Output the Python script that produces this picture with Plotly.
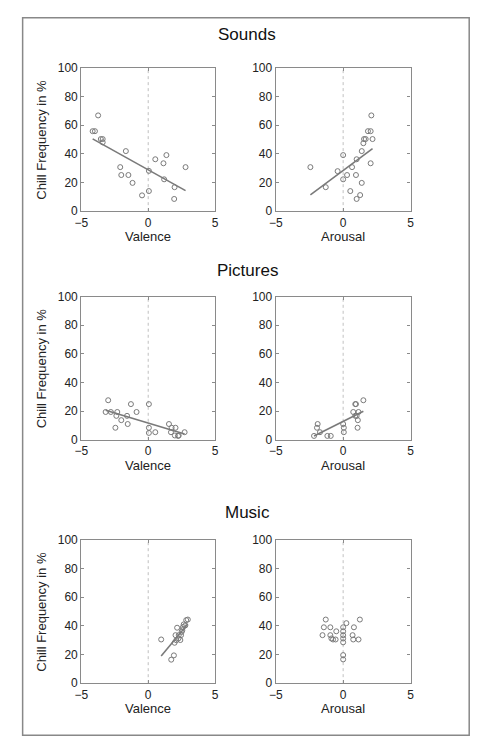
import numpy as np
import plotly.graph_objects as go
from plotly.subplots import make_subplots

# chill frequency (%) against mean valence / arousal ratings
sounds_val_x = [-4.15, -3.98, -3.74, -3.54, -3.4, -3.4, -1.67, -2.09, -2.01, -1.48, -1.17,
                -0.46, 0.05, 0.05, 0.53, 1.14, 1.36, 1.19, 1.97, 1.94, 2.79]
sounds_val_y = [55.8, 55.8, 66.8, 50.3, 50.3, 48.0, 41.9, 30.7, 25.2, 25.2, 19.7,
                11.0, 28.1, 14.0, 36.2, 33.4, 39.1, 22.2, 16.7, 8.5, 30.7]

sounds_aro_x = [-2.43, -1.29, -0.41, 0.0, 0.0, 0.29, 0.66, 1.0, 0.95, 0.53, 1.0,
                1.26, 1.38, 1.38, 1.5, 1.55, 1.67, 1.84, 2.04, 2.09, 2.18, 2.04]
sounds_aro_y = [30.7, 16.7, 27.9, 39.1, 22.2, 25.2, 30.7, 36.2, 25.2, 14.0, 8.5,
                11.2, 19.7, 41.9, 47.4, 50.3, 50.3, 55.8, 55.8, 66.8, 50.3, 33.4]

pict_val_x = [-2.99, -3.18, -2.79, -2.31, -2.38, -2.45, -2.01, -1.58, -1.53, -1.29, -0.87,
              0.05, 0.05, 0.05, 0.53, 1.55, 1.75, 2.04, 1.7, 1.99, 2.28, 2.23, 2.72]
pict_val_y = [27.6, 19.4, 19.4, 19.4, 16.7, 8.4, 13.7, 16.7, 11.0, 24.9, 19.4,
              24.9, 8.4, 4.8, 5.3, 11.0, 8.4, 8.4, 5.3, 3.0, 3.0, 2.7, 5.3]

pict_aro_x = [-2.16, -1.94, -1.89, -1.72, -1.17, -0.92, 0.05, 0.05, 0.0, 0.75, 0.95,
              0.9, 1.14, 1.09, 1.07, 1.5, 0.9, 1.0]
pict_aro_y = [2.7, 8.4, 11.0, 5.3, 2.7, 2.7, 8.4, 5.3, 11.0, 19.4, 24.9,
              16.7, 19.4, 13.7, 8.4, 27.6, 24.9, 16.7]

music_val_x = [0.97, 1.72, 1.92, 1.97, 2.04, 2.16, 2.26, 2.4, 2.45, 2.5, 2.6,
               2.65, 2.77, 2.84, 2.96, 2.28, 2.1, 2.55]
music_val_y = [30.5, 16.4, 19.4, 28.2, 33.5, 38.7, 31.2, 30.1, 33.5, 35.8, 39.2,
               41.0, 40.3, 44.0, 44.4, 33.5, 30.0, 37.0]

music_aro_x = [-1.29, -1.43, -1.53, -0.95, -0.95, -0.87, -0.56, -0.51, 0.0, 0.0, 0.0,
               0.0, 0.0, 0.0, 0.0, 0.24, 0.8, 0.7, 0.75, 1.14, 1.24, -0.75]
music_aro_y = [44.4, 39.0, 33.5, 39.0, 33.5, 31.2, 30.5, 36.2, 39.0, 36.2, 33.5,
               31.2, 28.5, 19.6, 16.6, 41.9, 39.0, 33.5, 30.5, 30.5, 44.4, 30.5]

sections = ["Sounds", "Pictures", "Music"]
panels = [
    (sounds_val_x, sounds_val_y, True), (sounds_aro_x, sounds_aro_y, True),
    (pict_val_x, pict_val_y, True), (pict_aro_x, pict_aro_y, True),
    (music_val_x, music_val_y, True), (music_aro_x, music_aro_y, False),
]

W, H = 482, 752
col_px = [(76, 213), (275, 413)]
row_px = [(62, 208), (295, 441), (543, 689)]

fig = make_subplots(rows=3, cols=2)
grey = "#8a8a8a"
font = "Liberation Sans, Arial, sans-serif"

for i, (xs, ys, fit) in enumerate(panels):
    r, c = i // 2 + 1, i % 2 + 1
    fig.add_trace(go.Scatter(x=xs, y=ys, mode="markers",
                             marker=dict(symbol="circle-open", size=5, color="#7a7a7a",
                                         line=dict(width=1)),
                             showlegend=False), row=r, col=c)
    if fit:
        k, b = np.polyfit(xs, ys, 1)
        lx = np.array([min(xs), max(xs)])
        fig.add_trace(go.Scatter(x=lx, y=k * lx + b, mode="lines",
                                 line=dict(color="#7a7a7a", width=1.6),
                                 showlegend=False), row=r, col=c)

for i in range(6):
    r, c = i // 2, i % 2
    n = "" if i == 0 else str(i + 1)
    x0, x1 = col_px[c]
    y0, y1 = row_px[r]
    fig.layout["xaxis" + n].update(
        domain=[x0 / W, x1 / W], range=[-5, 5], tickvals=[-5, 0, 5],
        ticktext=["\u22125", "0", "5"], showgrid=False, zeroline=False,
        showline=True, mirror="ticks", linecolor=grey, linewidth=1.2,
        ticks="inside", ticklen=3, tickcolor=grey,
        tickfont=dict(size=12, color="#222", family=font))
    fig.layout["yaxis" + n].update(
        domain=[1 - y1 / H, 1 - y0 / H], range=[0, 100], tickvals=[0, 20, 40, 60, 80, 100],
        showgrid=False, zeroline=False, showline=True, mirror="ticks",
        linecolor=grey, linewidth=1.2, ticks="inside", ticklen=3, tickcolor=grey,
        tickfont=dict(size=12, color="#222", family=font))
    fig.add_shape(type="line", x0=0, x1=0, y0=0, y1=100, xref="x" + n, yref="y" + n,
                  line=dict(color="#b0b0b0", width=0.8, dash="dot"), layer="below")
    # x axis title
    fig.add_annotation(text="Valence" if c == 0 else "Arousal", x=(x0 + x1) / 2 / W,
                       y=1 - (y1 + 26) / H, xref="paper", yref="paper", showarrow=False,
                       xanchor="center", yanchor="middle",
                       font=dict(size=13, color="#222", family=font))
    if c == 0:
        fig.add_annotation(text="Chill Frequency in %", x=35 / W, y=1 - (y0 + y1) / 2 / H,
                           xref="paper", yref="paper", showarrow=False, textangle=-90,
                           xanchor="center", yanchor="middle",
                           font=dict(size=13, color="#222", family=font))

for name, ty in zip(sections, [28, 268, 515]):
    fig.add_annotation(text=name, x=246 / W, y=1 - ty / H, xref="paper", yref="paper",
                       showarrow=False, xanchor="center", yanchor="middle",
                       font=dict(size=17, color="#111", family=font))

fig.add_shape(type="rect", xref="paper", yref="paper", x0=16 / W, x1=473 / W,
              y0=1 - 742 / H, y1=1 - 11 / H, line=dict(color="#888", width=1.5))

fig.update_layout(autosize=True, margin=dict(l=0, r=0, t=0, b=0),
                  paper_bgcolor="white", plot_bgcolor="white")

# fill the window exactly, no page margin, no toolbar
fig.write_html("out.html", config={"displayModeBar": False},
               default_width="100vw", default_height="100vh",
               post_script="document.body.style.margin='0';")
